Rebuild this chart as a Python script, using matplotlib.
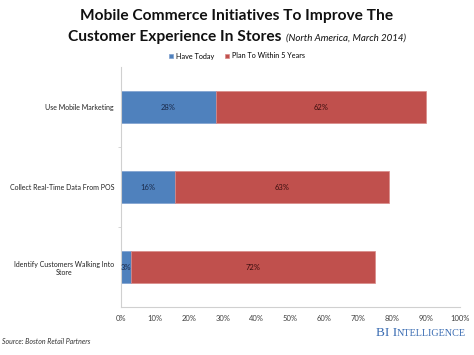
import matplotlib
matplotlib.use("Agg")
import matplotlib.pyplot as plt
from matplotlib.offsetbox import TextArea, HPacker, AnchoredOffsetbox
import numpy as np

categories = ["Use Mobile Marketing", "Collect Real-Time Data From POS",
              "Identify Customers Walking Into\nStore"]
have_today = [28, 16, 3]
plan_5_years = [62, 63, 72]
series_names = ["Have Today", "Plan To Within 5 Years"]
xticks = [0, 10, 20, 30, 40, 50, 60, 70, 80, 90, 100]

BLUE = "#4F81BD"
RED = "#C0504D"
plt.rcParams['font.family'] = ['Lato', 'DejaVu Sans']

fig = plt.figure(figsize=(4.74, 3.55), dpi=100)
ax = fig.add_axes([121/474, 1-307/355, 339/474, 240/355])

y = np.arange(len(categories))
h = 0.39
b1 = ax.barh(y, have_today, height=h, color=BLUE, label=series_names[0],
             edgecolor="#7EA0CF", linewidth=0.5)
b2 = ax.barh(y, plan_5_years, left=have_today, height=h, color=RED,
             label=series_names[1], edgecolor="#D98A88", linewidth=0.5)

for i in range(len(categories)):
    ax.text(have_today[i]/2, y[i], f"{have_today[i]}%", ha="center", va="center",
            fontsize=5.5, color="#1A2A4A")
    ax.text(have_today[i] + plan_5_years[i]/2, y[i], f"{plan_5_years[i]}%",
            ha="center", va="center", fontsize=5.5, color="#3A0E0E")

ax.set_xlim(0, 100)
ax.set_ylim(len(categories)-0.5, -0.5)
ax.set_xticks(xticks)
ax.set_xticklabels([f"{v}%" for v in xticks], fontsize=5.5, color="#404040")
ax.set_yticks(y)
ax.set_yticklabels(categories, fontsize=5.0, color="#202020", ha="right",
                   multialignment="center")
ax.tick_params(axis="y", length=0, pad=5)
ax.tick_params(axis="x", length=0, pad=6)
ax.set_yticks([0.5, 1.5], minor=True)
ax.tick_params(axis="y", which="minor", length=2, color="#D0D0D0")
for s in ["top", "right"]:
    ax.spines[s].set_visible(False)
ax.spines["left"].set_color("#D0D0D0")
ax.spines["bottom"].set_color("#D0D0D0")
ax.spines["left"].set_linewidth(0.8)
ax.spines["bottom"].set_linewidth(0.8)

# Title
fig.text(0.5, 1-16/355, "Mobile Commerce Initiatives To Improve The",
         ha="center", va="center", fontsize=11.2, fontweight="bold", color="#111111")
t2a = TextArea("Customer Experience In Stores ",
               textprops=dict(fontsize=11.2, fontweight="bold", color="#111111"))
t2b = TextArea("(North America, March 2014)",
               textprops=dict(fontsize=7.0, style="italic", color="#111111"))
box = HPacker(children=[t2a, t2b], align="baseline", pad=0, sep=0)
ab = AnchoredOffsetbox(loc="center", child=box, frameon=False,
                       bbox_to_anchor=(0.5, 1-37/355), bbox_transform=fig.transFigure,
                       borderpad=0, pad=0)
fig.add_artist(ab)

# Legend
leg = fig.legend(handles=[b1, b2], labels=series_names, loc="center",
                 bbox_to_anchor=(0.5, 1-56/355), ncol=2, frameon=False,
                 fontsize=5.2, handlelength=0.6, handleheight=0.6,
                 handletextpad=0.4, columnspacing=1.4)

# Source
fig.text(2/474, 1-342/355, "Source: Boston Retail Partners", ha="left", va="center",
         fontsize=5, style="italic", color="#333333")

# BI Intelligence logo (small caps)
logo_color = "#3B6DB3"
parts = [("BI I", 9.5), ("NTELLIGENCE", 7.3)]
areas = [TextArea(s, textprops=dict(fontsize=fs, family="Liberation Serif",
                                     color=logo_color)) for s, fs in parts]
lbox = HPacker(children=areas, align="baseline", pad=0, sep=0)
lab = AnchoredOffsetbox(loc="center right", child=lbox, frameon=False,
                        bbox_to_anchor=(466/474, 1-333/355), bbox_transform=fig.transFigure,
                        borderpad=0, pad=0)
fig.add_artist(lab)

fig.savefig("out.png", dpi=100)
